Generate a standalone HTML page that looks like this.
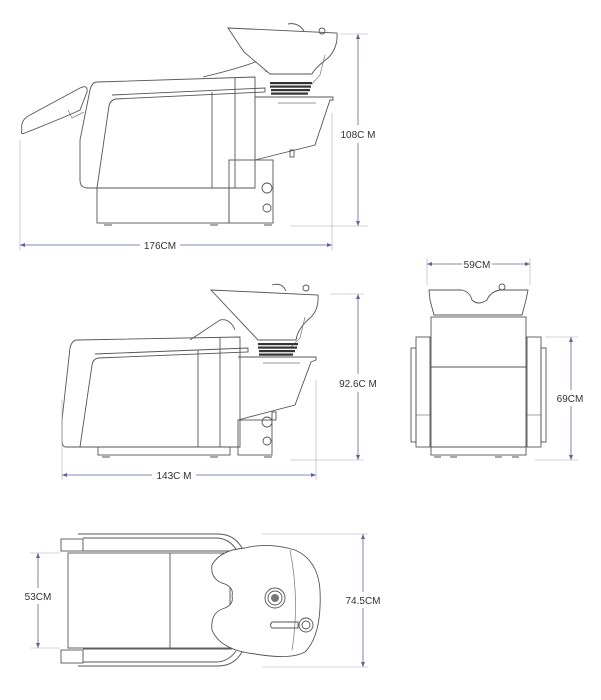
<!DOCTYPE html>
<html><head><meta charset="utf-8"><style>
html,body{margin:0;padding:0;background:#fff;}
svg{display:block;}
text{font-family:"Liberation Sans",sans-serif;font-size:10px;fill:#333;text-anchor:middle;}
.l{fill:none;stroke:#555;stroke-width:0.9;}
.t{fill:none;stroke:#777;stroke-width:0.7;}
.d{fill:none;stroke:#5a64a0;stroke-width:0.8;}
.e{fill:none;stroke:#aab;stroke-width:0.6;}
.w{fill:#fff;stroke:#555;stroke-width:0.9;}
</style></head><body>
<svg width="601" height="700" viewBox="0 0 601 700" xmlns="http://www.w3.org/2000/svg">
<!-- ===== VIEW 1 ===== -->
<g>
<path class="l" d="M22,130 Q20,120 30,115 L80,88 Q88,84 87,92 L80,110 Q70,115 25,133 Q20,135 22,130 Z"/>
<path class="t" d="M68,110 L72,118 L84,112"/>
<path class="l" d="M203,77 Q240,68 255,62 Q265,63 266,72"/>
<path class="w" d="M228,28 L337,33 Q338,48 328,58 Q315,68 312,74 L270,74 L244,52 Z"/>
<path class="t" d="M325,55 L320,75 L312,84"/>
<circle class="l" cx="322" cy="31" r="3"/>
<path class="l" d="M288,24 Q298,22 304,31"/>
<g fill="#333">
<rect x="270" y="82" width="42" height="2.2"/><rect x="270" y="85.5" width="41" height="2.2"/>
<rect x="271" y="89" width="39" height="2.2"/><rect x="271" y="92.5" width="37" height="2.2"/>
</g>
<path class="l" d="M97,82 L255,77 L255,188 L88,188 Q80,188 80,180 L80,140 L90,90 Q92,82 97,82 Z"/>
<path class="l" d="M112,95 L265,88 L265,92 L116,99 Q110,100 109,106 L97,188"/>
<line class="l" x1="212" y1="92" x2="212" y2="188"/>
<line class="l" x1="235" y1="78" x2="235" y2="188"/>
<path class="l" d="M255,97 L333,97 L333,100 L330,100 L315,145 L255,160"/>
<line class="t" x1="278" y1="103" x2="316" y2="103"/>
<rect class="l" x="97" y="188" width="132" height="35"/>
<rect class="l" x="229" y="160" width="44" height="63"/>
<circle class="l" cx="267" cy="188" r="5"/>
<circle class="l" cx="267" cy="208" r="4"/>
<rect class="l" x="290" y="150" width="4" height="7"/>
<path class="l" d="M104,225 h8 M210,225 h8 M264,225 h8"/>
<line class="d" x1="20" y1="245" x2="140" y2="245"/><line class="d" x1="180" y1="245" x2="332" y2="245"/>
<path d="M20,245 l5,-2 v4 z M332,245 l-5,-2 v4 z" fill="#5a64a0"/>
<line class="e" x1="20" y1="140" x2="20" y2="250"/><line class="e" x1="332" y1="113" x2="332" y2="250"/>
<text x="160" y="249">176CM</text>
<line class="d" x1="358" y1="34" x2="358" y2="125"/><line class="d" x1="358" y1="143" x2="358" y2="226"/>
<path d="M358,34 l-2,5 h4 z M358,226 l-2,-5 h4 z" fill="#5a64a0"/>
<line class="e" x1="340" y1="34" x2="368" y2="34"/><line class="e" x1="290" y1="226" x2="368" y2="226"/>
<text x="358" y="138">108C M</text>
</g>

<!-- ===== VIEW 2 ===== -->
<g>
<path class="l" d="M190,340 Q205,330 220,320 Q230,318 235,330"/>
<path class="w" d="M211,290 L318,295 Q319,310 310,318 Q298,328 296,340 L258,340 Z"/>
<path class="t" d="M305,317 L300,338 L290,348"/>
<circle class="l" cx="306" cy="288" r="3"/>
<path class="l" d="M272,285 Q282,282 286,291"/>
<g fill="#333">
<rect x="258" y="343" width="40" height="2.2"/><rect x="258" y="346.5" width="39" height="2.2"/>
<rect x="259" y="350" width="36" height="2.2"/><rect x="259" y="353.5" width="34" height="2.2"/>
</g>
<path class="l" d="M77,340 L240,337 L240,447 L66,447 Q62,447 62,440 L62,420 L70,348 Q72,340 77,340 Z"/>
<path class="l" d="M95,354 L248,348 L248,352 L98,358 Q93,359 92,365 L80,447"/>
<line class="l" x1="198" y1="350" x2="198" y2="447"/>
<line class="l" x1="220" y1="338" x2="220" y2="447"/>
<path class="l" d="M238,357 L316,357 L316,360 L311,362 L295,405 L238,420"/>
<line class="t" x1="263" y1="363" x2="300" y2="363"/>
<rect class="l" x="98" y="447" width="132" height="8"/>
<rect class="l" x="238" y="420" width="34" height="35"/>
<circle class="l" cx="267" cy="422" r="5"/>
<circle class="l" cx="267" cy="441" r="4"/>
<rect class="l" x="272" y="412" width="4" height="8"/>
<path class="l" d="M102,457 h8 M210,457 h8 M264,457 h8"/>
<line class="d" x1="62" y1="475" x2="152" y2="475"/><line class="d" x1="196" y1="475" x2="316" y2="475"/>
<path d="M62,475 l5,-2 v4 z M316,475 l-5,-2 v4 z" fill="#5a64a0"/>
<line class="e" x1="62" y1="400" x2="62" y2="480"/><line class="e" x1="316" y1="380" x2="316" y2="480"/>
<text x="174" y="479">143C M</text>
<line class="d" x1="358" y1="294" x2="358" y2="374"/><line class="d" x1="358" y1="392" x2="358" y2="460"/>
<path d="M358,294 l-2,5 h4 z M358,460 l-2,-5 h4 z" fill="#5a64a0"/>
<line class="e" x1="330" y1="294" x2="364" y2="294"/><line class="e" x1="290" y1="460" x2="364" y2="460"/>
<text x="358" y="387">92.6C M</text>
</g>

<!-- ===== VIEW 3 ===== -->
<g>
<line class="d" x1="427" y1="264" x2="462" y2="264"/><line class="d" x1="492" y1="264" x2="530" y2="264"/>
<path d="M427,264 l5,-2 v4 z M530,264 l-5,-2 v4 z" fill="#5a64a0"/>
<line class="e" x1="427" y1="258" x2="427" y2="285"/><line class="e" x1="530" y1="258" x2="530" y2="285"/>
<text x="477" y="268">59CM</text>
<path class="l" d="M429,290 L462,290 Q470,292 472,300 Q478,306 487,300 Q490,292 500,290 L528,290 L526,300 L522,315 L434,315 L430,300 Z"/>
<circle class="l" cx="502" cy="287" r="3"/>
<rect class="l" x="431" y="317" width="95" height="50"/>
<rect class="l" x="431" y="367" width="95" height="80"/>
<rect class="l" x="431" y="447" width="95" height="8"/>
<rect class="l" x="416" y="337" width="14" height="110"/>
<rect class="l" x="411" y="348" width="5" height="94"/>
<rect class="l" x="527" y="337" width="14" height="110"/>
<rect class="l" x="541" y="348" width="5" height="94"/>
<line class="t" x1="416" y1="415" x2="430" y2="415"/><line class="t" x1="527" y1="415" x2="541" y2="415"/>
<path class="l" d="M434,457 h7 M450,457 h7 M495,457 h7 M512,457 h7"/>
<line class="d" x1="571" y1="337" x2="571" y2="390"/><line class="d" x1="571" y1="406" x2="571" y2="460"/>
<path d="M571,337 l-2,5 h4 z M571,460 l-2,-5 h4 z" fill="#5a64a0"/>
<line class="e" x1="545" y1="337" x2="578" y2="337"/><line class="e" x1="535" y1="460" x2="578" y2="460"/>
<text x="570" y="402">69CM</text>
</g>

<!-- ===== VIEW 4 ===== -->
<g>
<path class="l" d="M78,534 L218,534 Q234,534 242,548"/>
<path class="l" d="M83,538 L216,538 Q228,538 236,549"/>
<path class="l" d="M78,666 L218,666 Q234,666 242,652"/>
<path class="l" d="M83,662 L216,662 Q228,662 236,651"/>
<rect class="l" x="61" y="539" width="22" height="12"/>
<rect class="l" x="61" y="650" width="22" height="13"/>
<line class="l" x1="83" y1="551" x2="232" y2="551"/>
<line class="l" x1="83" y1="649" x2="232" y2="649"/>
<rect class="l" x="68" y="553" width="162" height="95"/>
<line class="l" x1="170" y1="553" x2="170" y2="648"/>
<path class="w" d="M245,548 Q268,542 295,550 Q318,560 320,590 Q322,635 305,652 Q290,660 255,654 Q220,650 212,630 Q210,612 225,608 Q234,604 232,596 Q234,588 225,584 Q210,580 212,565 Q220,550 245,548 Z"/>
<path class="t" d="M290,550 Q300,600 292,650"/>
<circle class="l" cx="275" cy="598" r="10"/>
<circle class="l" cx="275" cy="598" r="7"/>
<circle cx="275" cy="598" r="4" fill="#777"/>
<path class="l" d="M272,622 L298,622 L298,628 L272,628 Q269,625 272,622 Z"/>
<circle class="w" cx="306" cy="625" r="7"/>
<circle class="l" cx="306" cy="625" r="4"/>
<line class="d" x1="38" y1="553" x2="38" y2="588"/><line class="d" x1="38" y1="604" x2="38" y2="648"/>
<path d="M38,553 l-2,5 h4 z M38,648 l-2,-5 h4 z" fill="#5a64a0"/>
<line class="e" x1="30" y1="553" x2="60" y2="553"/><line class="e" x1="30" y1="648" x2="60" y2="648"/>
<text x="38" y="600">53CM</text>
<line class="d" x1="363" y1="534" x2="363" y2="592"/><line class="d" x1="363" y1="608" x2="363" y2="667"/>
<path d="M363,534 l-2,5 h4 z M363,667 l-2,-5 h4 z" fill="#5a64a0"/>
<line class="e" x1="262" y1="534" x2="368" y2="534"/><line class="e" x1="262" y1="667" x2="368" y2="667"/>
<text x="363" y="604">74.5CM</text>
</g>
</svg>
</body></html>
